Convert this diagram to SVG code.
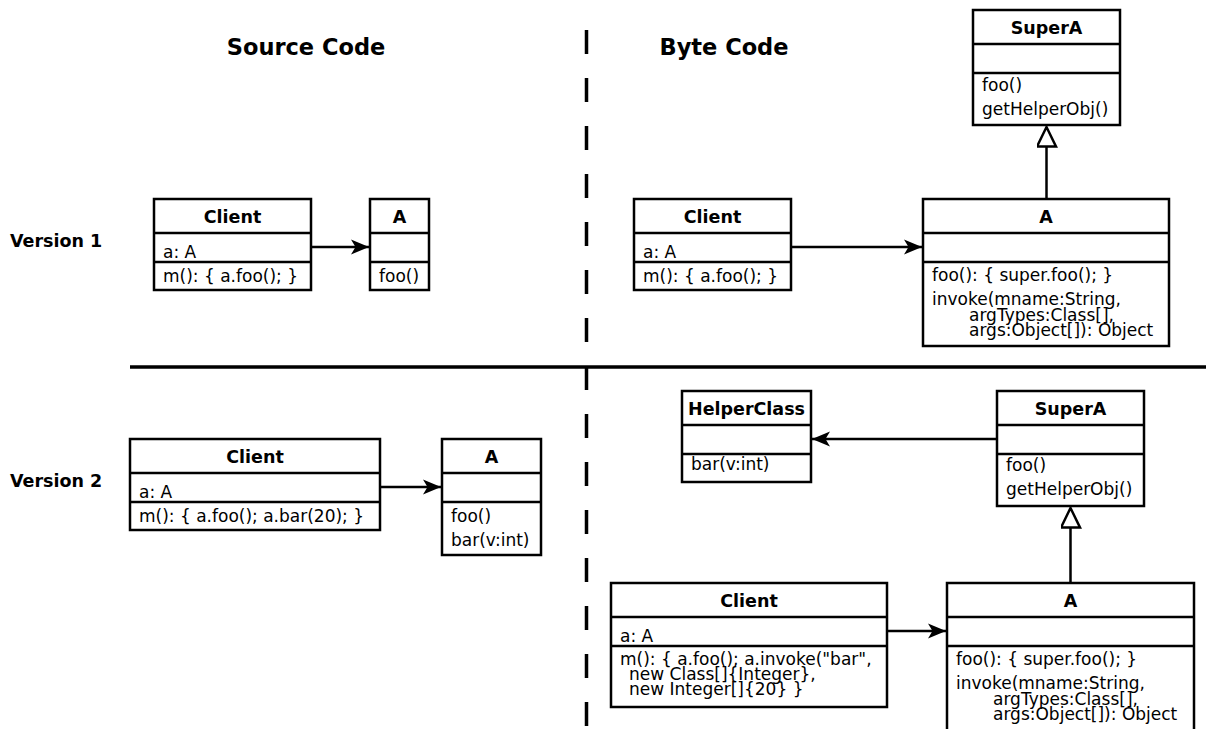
<svg xmlns="http://www.w3.org/2000/svg" width="1206" height="729" viewBox="0 0 1206 729">
  <style>
    text { font-family: "DejaVu Sans", "Liberation Sans", sans-serif; fill: #000; }
    .t { font-size: 17px; }
    .b { font-size: 17.5px; font-weight: bold; text-anchor: middle; }
    .h { font-size: 22.5px; font-weight: bold; text-anchor: middle; }
    .v { font-size: 17.5px; font-weight: bold; }
    .box { fill: #fff; stroke: #000; stroke-width: 2.5; }
    .sep { stroke: #000; stroke-width: 2.5; fill: none; }
    .edge { stroke: #000; stroke-width: 2.5; fill: none; }
  </style>
  <defs>
    <marker id="arrow" markerUnits="userSpaceOnUse" markerWidth="20" markerHeight="18" refX="18" refY="8" orient="auto">
      <path d="M0,0.5 L18,8 L0,15.5 L4.5,8 Z" fill="#000"/>
    </marker>
    <marker id="extends" markerUnits="userSpaceOnUse" markerWidth="26" markerHeight="24" refX="21" refY="10" orient="auto">
      <path d="M1.5,0.5 L21,10 L1.5,19.5 Z" fill="#fff" stroke="#000" stroke-width="2.5"/>
    </marker>
  </defs>

  <rect width="1206" height="729" fill="#fff"/>

  <!-- column and row headers -->
  <text class="h" x="306" y="55">Source Code</text>
  <text class="h" x="724" y="55">Byte Code</text>
  <text class="v" x="10" y="247">Version 1</text>
  <text class="v" x="10" y="487">Version 2</text>

  <!-- section dividers -->
  <line x1="586.5" y1="30" x2="586.5" y2="729" stroke="#000" stroke-width="3.5" stroke-dasharray="24 24"/>
  <line x1="130" y1="367" x2="1206" y2="367" stroke="#000" stroke-width="3.5"/>

  <!-- Version 1 / source -->
  <g id="v1-src-client">
    <rect class="box" x="154" y="199" width="157" height="91"/>
    <line class="sep" x1="154" y1="233" x2="311" y2="233"/>
    <line class="sep" x1="154" y1="262" x2="311" y2="262"/>
    <text class="b" x="232.5" y="223">Client</text>
    <text class="t" x="163" y="258">a: A</text>
    <text class="t" x="163" y="282">m(): { a.foo(); }</text>
  </g>
  <g id="v1-src-a">
    <rect class="box" x="370" y="199" width="59" height="91"/>
    <line class="sep" x1="370" y1="233" x2="429" y2="233"/>
    <line class="sep" x1="370" y1="262" x2="429" y2="262"/>
    <text class="b" x="399.5" y="223">A</text>
    <text class="t" x="379" y="282">foo()</text>
  </g>

  <!-- Version 1 / byte code -->
  <g id="v1-bc-supera">
    <rect class="box" x="973" y="10" width="147" height="115"/>
    <line class="sep" x1="973" y1="44" x2="1120" y2="44"/>
    <line class="sep" x1="973" y1="73" x2="1120" y2="73"/>
    <text class="b" x="1046.5" y="34">SuperA</text>
    <text class="t" x="982" y="91">foo()</text>
    <text class="t" x="982" y="115">getHelperObj()</text>
  </g>
  <g id="v1-bc-client">
    <rect class="box" x="634" y="199" width="157" height="91"/>
    <line class="sep" x1="634" y1="233" x2="791" y2="233"/>
    <line class="sep" x1="634" y1="262" x2="791" y2="262"/>
    <text class="b" x="712.5" y="223">Client</text>
    <text class="t" x="643" y="258">a: A</text>
    <text class="t" x="643" y="282">m(): { a.foo(); }</text>
  </g>
  <g id="v1-bc-a">
    <rect class="box" x="923" y="199" width="246" height="147"/>
    <line class="sep" x1="923" y1="233" x2="1169" y2="233"/>
    <line class="sep" x1="923" y1="262" x2="1169" y2="262"/>
    <text class="b" x="1046" y="223">A</text>
    <text class="t" x="932" y="281">foo(): { super.foo(); }</text>
    <text class="t" x="932" y="305">invoke(mname:String,</text>
    <text class="t" x="969" y="321">argTypes:Class[],</text>
    <text class="t" x="969" y="336">args:Object[]): Object</text>
  </g>

  <!-- Version 2 / source -->
  <g id="v2-src-client">
    <rect class="box" x="130" y="439" width="250" height="91"/>
    <line class="sep" x1="130" y1="473" x2="380" y2="473"/>
    <line class="sep" x1="130" y1="502" x2="380" y2="502"/>
    <text class="b" x="255" y="463">Client</text>
    <text class="t" x="139" y="498">a: A</text>
    <text class="t" x="139" y="522">m(): { a.foo(); a.bar(20); }</text>
  </g>
  <g id="v2-src-a">
    <rect class="box" x="442" y="439" width="99" height="116"/>
    <line class="sep" x1="442" y1="473" x2="541" y2="473"/>
    <line class="sep" x1="442" y1="502" x2="541" y2="502"/>
    <text class="b" x="491.5" y="463">A</text>
    <text class="t" x="451" y="522">foo()</text>
    <text class="t" x="451" y="546">bar(v:int)</text>
  </g>

  <!-- Version 2 / byte code -->
  <g id="v2-bc-helper">
    <rect class="box" x="682" y="391" width="129" height="91"/>
    <line class="sep" x1="682" y1="425" x2="811" y2="425"/>
    <line class="sep" x1="682" y1="454" x2="811" y2="454"/>
    <text class="b" x="746.5" y="415">HelperClass</text>
    <text class="t" x="691" y="470">bar(v:int)</text>
  </g>
  <g id="v2-bc-supera">
    <rect class="box" x="997" y="391" width="147" height="115"/>
    <line class="sep" x1="997" y1="425" x2="1144" y2="425"/>
    <line class="sep" x1="997" y1="454" x2="1144" y2="454"/>
    <text class="b" x="1070.5" y="415">SuperA</text>
    <text class="t" x="1006" y="471">foo()</text>
    <text class="t" x="1006" y="495">getHelperObj()</text>
  </g>
  <g id="v2-bc-client">
    <rect class="box" x="611" y="583" width="276" height="124"/>
    <line class="sep" x1="611" y1="617" x2="887" y2="617"/>
    <line class="sep" x1="611" y1="646" x2="887" y2="646"/>
    <text class="b" x="749" y="607">Client</text>
    <text class="t" x="620" y="642">a: A</text>
    <text class="t" x="620" y="665">m(): { a.foo(); a.invoke("bar",</text>
    <text class="t" x="629" y="680">new Class[]{Integer},</text>
    <text class="t" x="629" y="695">new Integer[]{20} }</text>
  </g>
  <g id="v2-bc-a">
    <rect class="box" x="947" y="583" width="247" height="160"/>
    <line class="sep" x1="947" y1="617" x2="1194" y2="617"/>
    <line class="sep" x1="947" y1="646" x2="1194" y2="646"/>
    <text class="b" x="1070.5" y="607">A</text>
    <text class="t" x="956" y="665">foo(): { super.foo(); }</text>
    <text class="t" x="956" y="689">invoke(mname:String,</text>
    <text class="t" x="993" y="705">argTypes:Class[],</text>
    <text class="t" x="993" y="720">args:Object[]): Object</text>
  </g>

  <!-- connectors -->
  <g id="connectors">
    <line class="edge" x1="311" y1="247" x2="369" y2="247" marker-end="url(#arrow)"/>
    <line class="edge" x1="791" y1="247" x2="922" y2="247" marker-end="url(#arrow)"/>
    <line class="edge" x1="1046.5" y1="199" x2="1046.5" y2="127" marker-end="url(#extends)"/>
    <line class="edge" x1="380" y1="487" x2="441" y2="487" marker-end="url(#arrow)"/>
    <line class="edge" x1="997" y1="439" x2="812" y2="439" marker-end="url(#arrow)"/>
    <line class="edge" x1="1070.5" y1="583" x2="1070.5" y2="508" marker-end="url(#extends)"/>
    <line class="edge" x1="887" y1="631" x2="946" y2="631" marker-end="url(#arrow)"/>
  </g>
</svg>
